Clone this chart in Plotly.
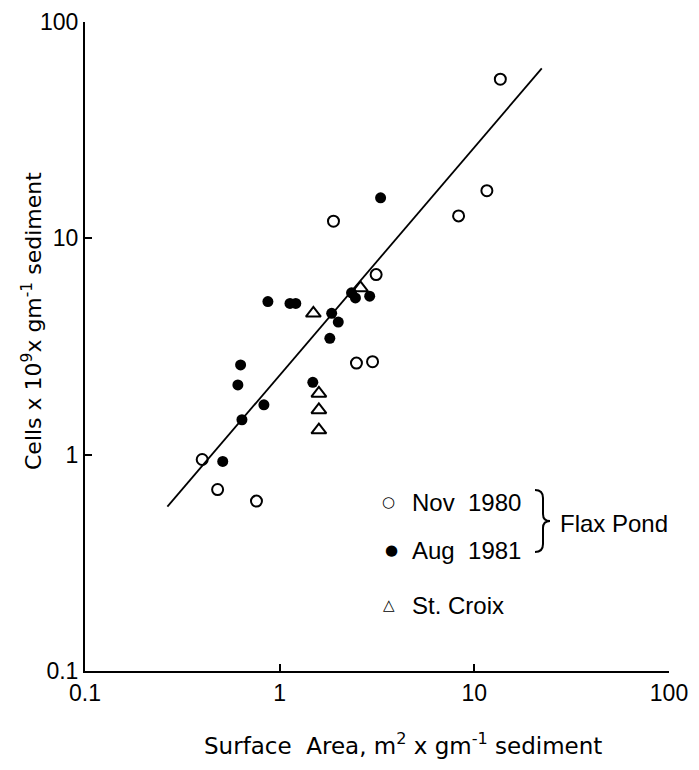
import plotly.graph_objects as go

# ---- data ----
nov_x = [0.40, 0.48, 0.76, 1.89, 2.48, 3.0, 3.13, 8.3, 11.6, 13.6]
nov_y = [0.95, 0.69, 0.61, 12.0, 2.65, 2.69, 6.8, 12.7, 16.6, 54.4]

aug_x = [0.51, 0.64, 0.61, 0.63, 0.83, 0.87, 1.13, 1.21, 1.48, 1.81, 1.85, 2.0, 2.34, 2.45, 2.9, 3.3]
aug_y = [0.93, 1.45, 2.1, 2.6, 1.7, 5.1, 5.0, 5.0, 2.16, 3.45, 4.5, 4.1, 5.6, 5.3, 5.4, 15.4]

stc_x = [1.49, 1.59, 1.59, 1.59, 2.6]
stc_y = [4.5, 1.92, 1.61, 1.30, 5.9]

fit_x = [0.265, 22.2]
fit_y = [0.575, 61.0]

tick_vals = [0.1, 1, 10, 100]
tick_text = ["0.1", "1", "10", "100"]

# page has an 8px body margin; figure sized to fit the 699x770 window
W, H = 683, 754
L, T = 77, 14
PW, PH = 584, 649
R = W - L - PW
B = H - T - PH
X0, Y0 = 85, 671  # screen position of the plot's lower-left corner
FONT = "Liberation Sans, Arial, sans-serif"
TFONT = "DejaVu Sans, sans-serif"


def px2paper(px, py):
    return (px - X0) / PW, (Y0 - py) / PH


fig = go.Figure()
fig.add_trace(go.Scatter(x=fit_x, y=fit_y, mode="lines",
                         line=dict(color="black", width=1.8), hoverinfo="skip"))
fig.add_trace(go.Scatter(x=nov_x, y=nov_y, mode="markers", name="Nov 1980",
                         marker=dict(symbol="circle-open", size=11, color="black",
                                     line=dict(width=2, color="black"))))
fig.add_trace(go.Scatter(x=aug_x, y=aug_y, mode="markers", name="Aug 1981",
                         marker=dict(symbol="circle", size=11, color="black")))
fig.add_trace(go.Scatter(x=stc_x, y=stc_y, mode="markers", name="St. Croix",
                         marker=dict(symbol="triangle-up-open", size=13, color="black",
                                     line=dict(width=2, color="black"))))

axis_common = dict(type="log", tickvals=tick_vals, ticktext=tick_text,
                   showgrid=False, zeroline=False, showline=True,
                   linecolor="black", linewidth=2, ticks="inside", ticklen=7,
                   tickwidth=2, tickcolor="black", mirror=False, automargin=False,
                   tickfont=dict(family=FONT, size=23, color="black"))

fig.update_xaxes(range=[-1, 2], **axis_common)
fig.update_yaxes(range=[-1, 2], **axis_common)

annotations = []


def note(text, px, py, size, family=FONT, xanchor="center", angle=0):
    ax, ay = px2paper(px, py)
    annotations.append(dict(x=ax, y=ay, xref="paper", yref="paper", showarrow=False,
                            xanchor=xanchor, yanchor="middle", textangle=angle,
                            text=text, font=dict(family=family, size=size, color="black")))


# axis titles
note("Surface  Area, m<sup>2</sup> x gm<sup>-1</sup> sediment", 403, 744, 23, TFONT)
note("Cells x 10<sup>9</sup>x gm<sup>-1</sup> sediment", 32, 321, 22, TFONT, angle=-90)

# legend built as text
note("○", 388, 502, 15, TFONT)
note("●", 391, 550, 15, TFONT)
note("△", 389, 605, 15, TFONT)
note("Nov  1980", 410, 502, 24, xanchor="left")
note("Aug  1981", 410, 550, 24, xanchor="left")
note("St. Croix", 410, 605, 24, xanchor="left")
note("Flax Pond", 558, 523, 24, xanchor="left")

# curly brace
pts = [(535, 490), (543, 490), (543, 498), (543, 514), (543, 521), (550, 521),
       (543, 521), (543, 528), (543, 544), (543, 552), (535, 552)]
pp = [px2paper(*p) for p in pts]
path = (f"M {pp[0][0]},{pp[0][1]} Q {pp[1][0]},{pp[1][1]} {pp[2][0]},{pp[2][1]} "
        f"L {pp[3][0]},{pp[3][1]} Q {pp[4][0]},{pp[4][1]} {pp[5][0]},{pp[5][1]} "
        f"Q {pp[6][0]},{pp[6][1]} {pp[7][0]},{pp[7][1]} L {pp[8][0]},{pp[8][1]} "
        f"Q {pp[9][0]},{pp[9][1]} {pp[10][0]},{pp[10][1]}")
shapes = [dict(type="path", path=path, xref="paper", yref="paper",
               line=dict(color="black", width=2))]

fig.update_layout(width=W, height=H,
                  margin=dict(l=L, r=R, t=T, b=B, autoexpand=False),
                  plot_bgcolor="white", paper_bgcolor="white", showlegend=False,
                  annotations=annotations, shapes=shapes,
                  font=dict(family=FONT, color="black"))

fig.write_html("out.html")
